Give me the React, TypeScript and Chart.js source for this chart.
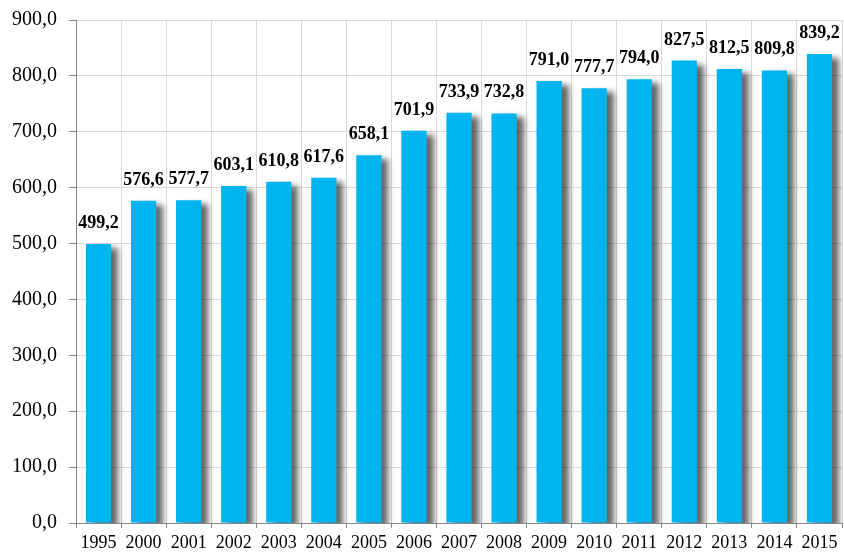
import React, { useEffect, useRef } from "react";
import { Chart, registerables } from "chart.js";

Chart.register(...registerables);

const categories: string[] = ["1995", "2000", "2001", "2002", "2003", "2004", "2005", "2006", "2007", "2008", "2009", "2010", "2011", "2012", "2013", "2014", "2015"];
const values: number[] = [499.2, 576.6, 577.7, 603.1, 610.8, 617.6, 658.1, 701.9, 733.9, 732.8, 791.0, 777.7, 794.0, 827.5, 812.5, 809.8, 839.2];
const yMin = 0;
const yMax = 900;
const yStep = 100;

const fmt = (v: number) => v.toFixed(1).replace(".", ",");
const FONT = "'Liberation Serif', 'Times New Roman', serif";

const shadowPlugin = {
  id: "barShadow",
  beforeDatasetsDraw(chart: any) {
    const ctx = chart.ctx;
    ctx.save();
    ctx.shadowColor = "rgba(0,0,0,0.6)";
    ctx.shadowBlur = 6;
    ctx.shadowOffsetX = 7;
    ctx.shadowOffsetY = 4;
  },
  afterDatasetsDraw(chart: any) {
    chart.ctx.restore();
  },
};

const labelPlugin = {
  id: "barLabels",
  afterDatasetsDraw(chart: any) {
    const ctx = chart.ctx;
    const meta = chart.getDatasetMeta(0);
    ctx.save();
    ctx.font = `bold 18px ${FONT}`;
    ctx.fillStyle = "#000";
    ctx.textAlign = "center";
    ctx.textBaseline = "alphabetic";
    meta.data.forEach((el: any, i: number) => {
      ctx.fillText(fmt(values[i]), el.x, el.y - 16);
    });
    ctx.restore();
  },
};

export default function App() {
  const ref = useRef<HTMLCanvasElement | null>(null);
  useEffect(() => {
    if (!ref.current) return;
    const chart = new Chart(ref.current, {
      type: "bar",
      data: {
        labels: categories,
        datasets: [
          {
            data: values,
            backgroundColor: "#00B4F0",
            borderWidth: 0,
            barPercentage: 0.56,
            categoryPercentage: 1,
          },
        ],
      },
      options: {
        responsive: false,
        animation: false,
        events: [],
        layout: { padding: { top: 20, right: 2, left: 0, bottom: 0 } },
        plugins: { legend: { display: false }, tooltip: { enabled: false } },
        scales: {
          x: {
            grid: { offset: true, color: "#d9d9d9", tickColor: "#868686", tickLength: 5, drawOnChartArea: true },
            border: { color: "#868686", width: 1 },
            ticks: { color: "#000", font: { family: FONT, size: 18 }, padding: 4, maxRotation: 0, autoSkip: false },
            afterFit: (scale: any) => {
              scale.height = 30;
            },
          },
          y: {
            min: yMin,
            max: yMax,
            grid: { color: "#d9d9d9", tickColor: "#868686", tickLength: 7 },
            border: { color: "#868686", width: 1 },
            ticks: {
              stepSize: yStep,
              color: "#000",
              font: { family: FONT, size: 20, lineHeight: 1 },
              padding: 12,
              callback: (v: any) => fmt(Number(v)),
            },
            afterFit: (scale: any) => {
              scale.width = 76;
              scale.paddingTop = 0;
            },
          },
        },
      },
      plugins: [shadowPlugin, labelPlugin],
    });
    return () => chart.destroy();
  }, []);
  return (
    <div style={{ position: "fixed", left: 0, top: 0, width: 844, height: 553, background: "#fff" }}>
      <canvas ref={ref} width={844} height={553} />
    </div>
  );
}
